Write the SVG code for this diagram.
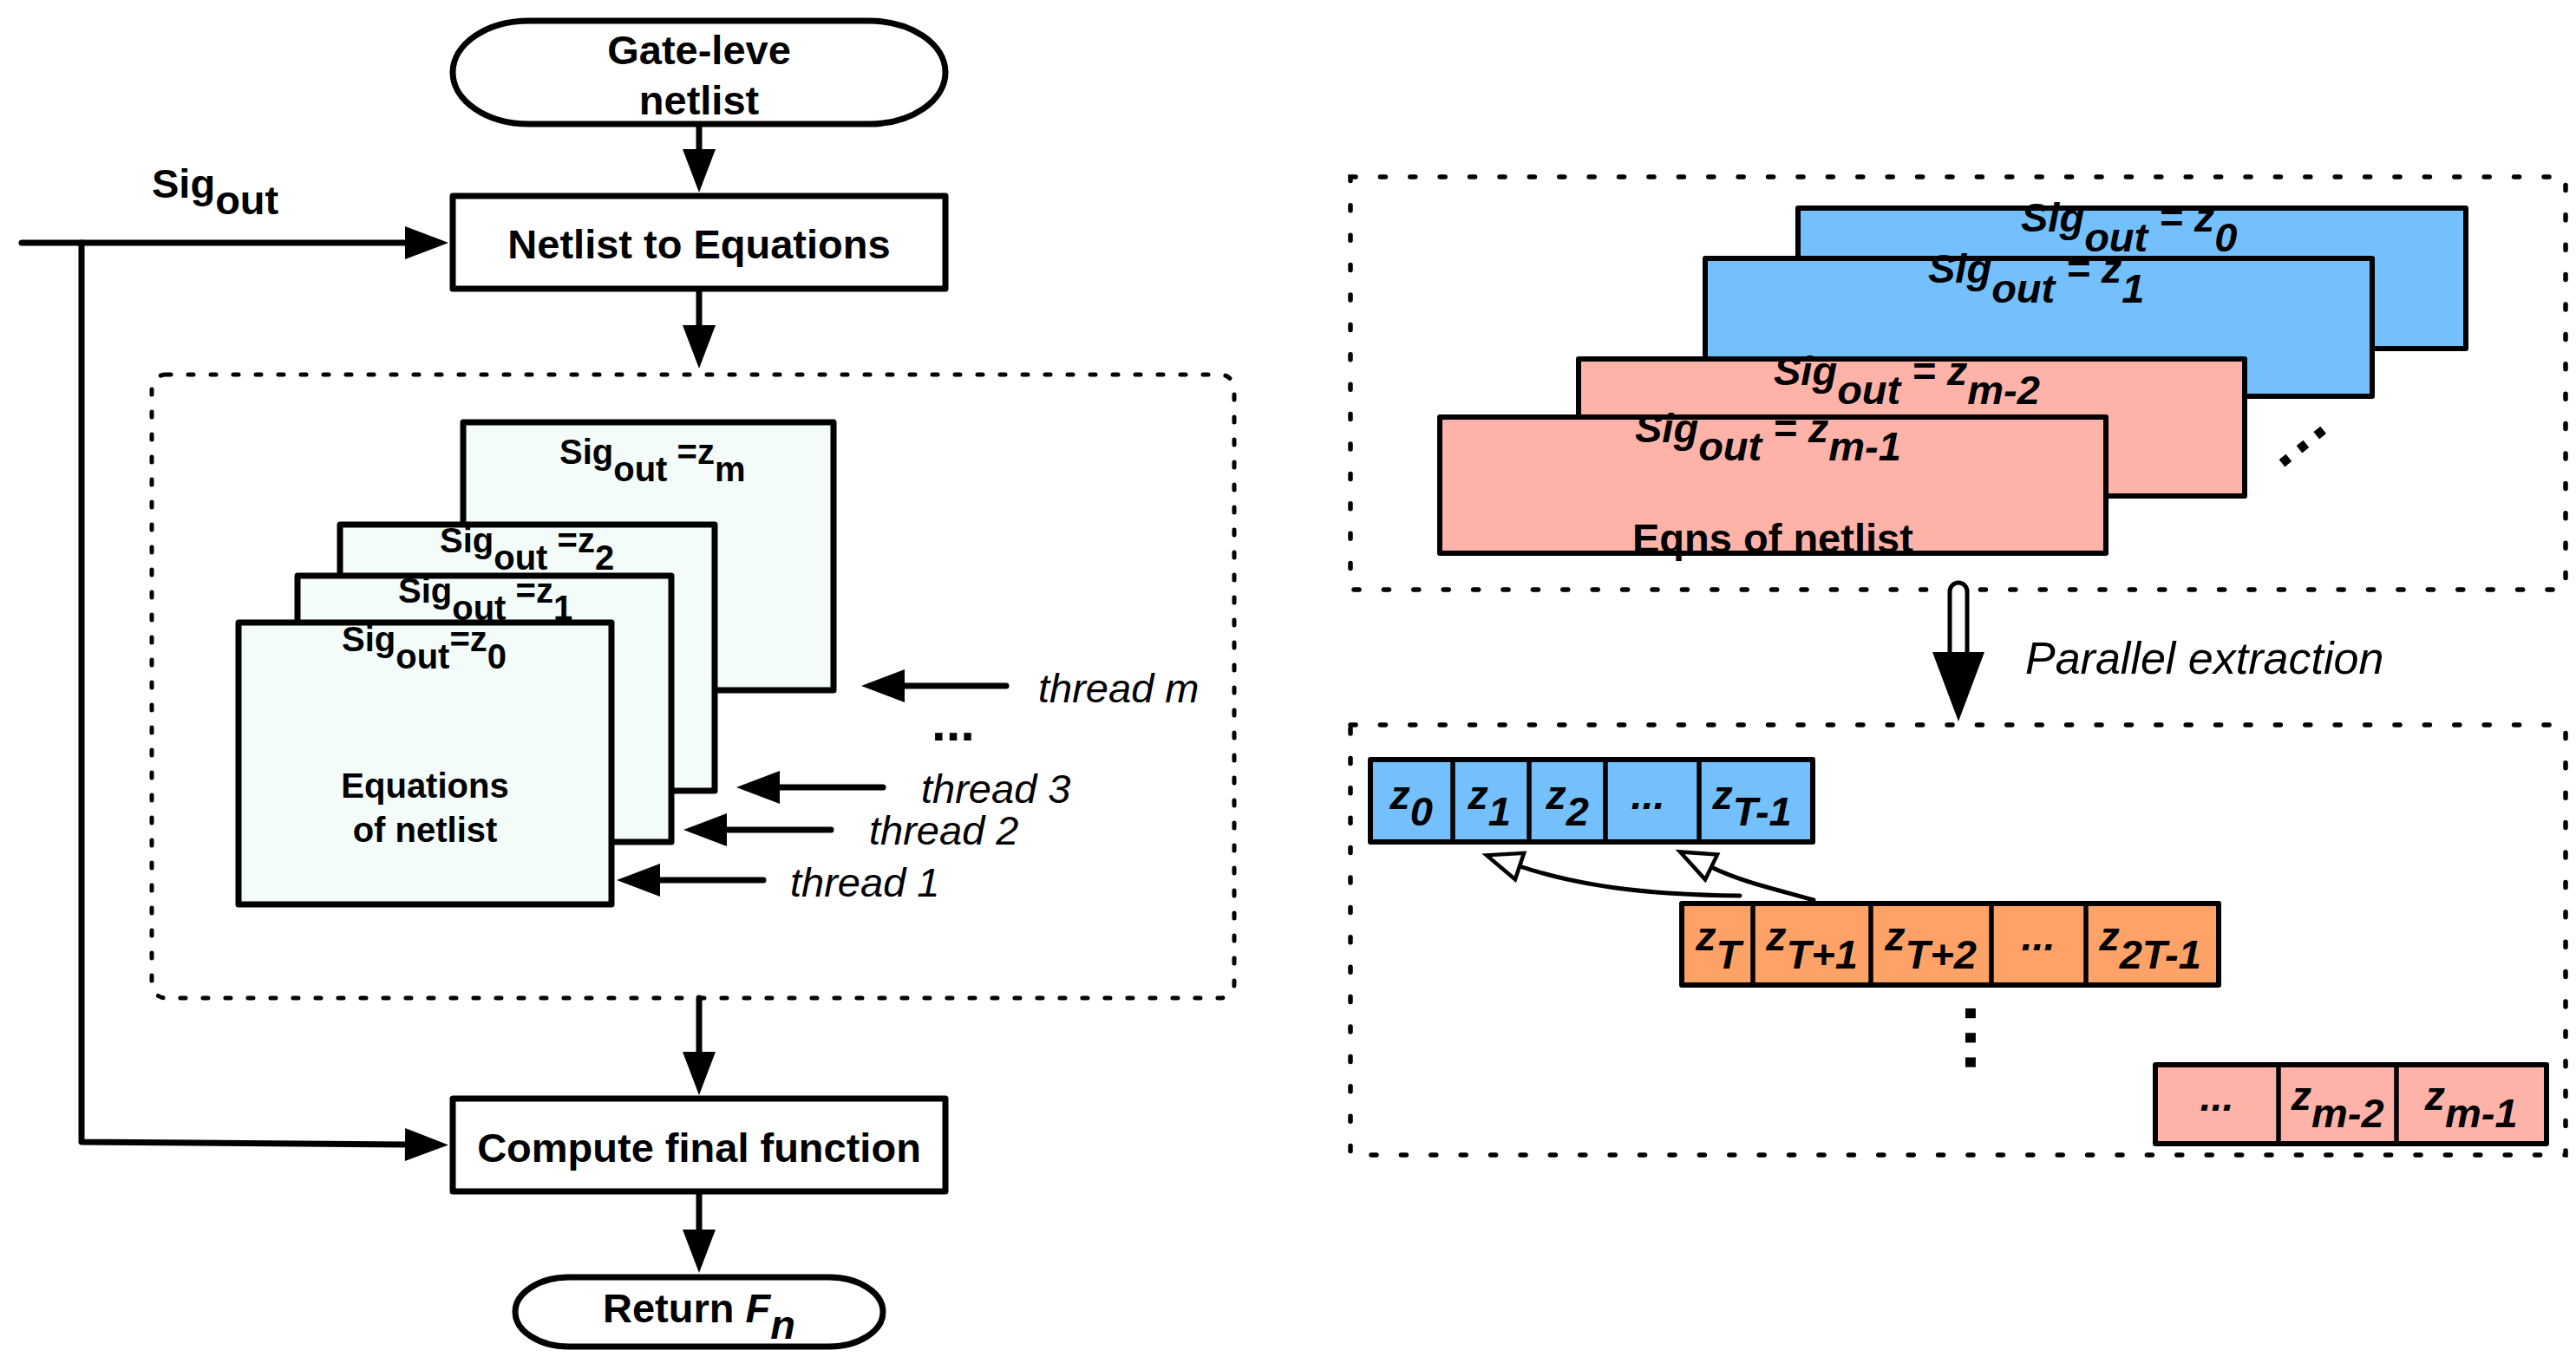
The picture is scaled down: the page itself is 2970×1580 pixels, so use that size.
<svg xmlns="http://www.w3.org/2000/svg" width="2970" height="1580" viewBox="0 0 2970 1580">
<style>
text { font-family: "Liberation Sans", Arial, Helvetica, sans-serif; fill: #000; }
.b47 { font-weight: bold; font-size: 47px; }
.b40 { font-weight: bold; font-size: 40px; }
.it47 { font-style: italic; font-size: 47px; }
.it50 { font-style: italic; font-size: 52px; }
.bi47 { font-weight: bold; font-style: italic; font-size: 47px; }
.box { fill: #fff; stroke: #000; stroke-width: 7; stroke-linejoin: round; }
.mint { fill: #F3FCF9; stroke: #000; stroke-width: 7; stroke-linejoin: round; }
.edge { fill: none; stroke: #000; stroke-width: 6; stroke-linejoin: round; }
.blue { fill: #73C0FC; }
.pink { fill: #FFB3A8; }
.orange { fill: #FFA267; }
.div { stroke: #000; stroke-width: 5.5; }
.dashL { fill: none; stroke: #000; stroke-width: 5; stroke-dasharray: 6 20; stroke-linecap: round; }
.dashR { fill: none; stroke: #000; stroke-width: 5.5; stroke-dasharray: 6 28.4; stroke-linecap: round; }
.conn { fill: none; stroke: #000; stroke-width: 7; stroke-linecap: round; stroke-linejoin: round; marker-end: url(#ah); }
.hconn { fill: none; stroke: #000; stroke-width: 5; stroke-linecap: round; marker-end: url(#hh); }
</style>
<defs>
<marker id="ah" markerUnits="userSpaceOnUse" orient="auto" overflow="visible" refX="0" refY="0" markerWidth="1" markerHeight="1">
<path d="M0,-19 L50,0 L0,19 Z" fill="#000"/>
</marker>
<marker id="hh" markerUnits="userSpaceOnUse" orient="auto" overflow="visible" refX="0" refY="0" markerWidth="1" markerHeight="1">
<path d="M0,-16 L40,0 L0,16 Z" fill="#fff" stroke="#000" stroke-width="4.5" stroke-linejoin="miter"/>
</marker>
</defs>
<rect width="2970" height="1580" fill="#fff"/>

<!-- Left panel containers -->
<g id="thread-container">
<rect class="dashL" x="175" y="432" width="1248" height="719" rx="16" ry="16"/>
</g>

<g id="gate-netlist">
<rect class="box" x="522" y="24" width="568" height="119" rx="88" ry="59.5"/>
<text class="b47" x="806" y="74" text-anchor="middle">Gate-leve</text>
<text class="b47" x="806" y="132" text-anchor="middle">netlist</text>
</g>

<g id="netlist-to-equations">
<rect class="box" x="522" y="226" width="568" height="107"/>
<text class="b47" x="806" y="298" text-anchor="middle">Netlist to Equations</text>
</g>

<g id="eq-m">
<rect class="mint" x="534" y="487" width="427" height="309"/>
<text class="b40" x="645" y="535">Sig<tspan dy="20">out</tspan><tspan dy="-20"> =z</tspan><tspan dy="20">m</tspan></text>
</g>
<g id="eq-2">
<rect class="mint" x="392" y="605" width="432" height="307"/>
<text class="b40" x="507" y="637">Sig<tspan dy="20">out</tspan><tspan dy="-20"> =z</tspan><tspan dy="20">2</tspan></text>
</g>
<g id="eq-1">
<rect class="mint" x="343" y="664" width="431" height="307"/>
<text class="b40" x="459" y="695">Sig<tspan dy="20">out</tspan><tspan dy="-20"> =z</tspan><tspan dy="20">1</tspan></text>
</g>
<g id="eq-0">
<rect class="mint" x="275" y="718" width="430" height="325"/>
<text class="b40" x="394" y="751">Sig<tspan dy="20">out</tspan><tspan dy="-20">=z</tspan><tspan dy="20">0</tspan></text>
<text class="b40" x="490" y="920" text-anchor="middle">Equations</text>
<text class="b40" x="490" y="971" text-anchor="middle">of netlist</text>
</g>

<g id="thread-labels">
<text class="it47" x="1197" y="810">thread m</text>
<text class="b47" x="1074" y="854" style="font-size:60px">...</text>
<text class="it47" x="1062" y="926">thread 3</text>
<text class="it47" x="1002" y="974">thread 2</text>
<text class="it47" x="911" y="1034">thread 1</text>
</g>

<g id="sig-out-label">
<text class="b47" x="175" y="228">Sig<tspan dy="19">out</tspan></text>
</g>

<g id="compute-final">
<rect class="box" x="522" y="1267" width="568" height="107"/>
<text class="b47" x="806" y="1340" text-anchor="middle">Compute final function</text>
</g>

<g id="return-fn">
<rect class="box" x="594" y="1473" width="424" height="80" rx="62" ry="40"/>
<text class="b47" x="695" y="1525">Return <tspan font-style="italic">F</tspan><tspan font-style="italic" dy="19">n</tspan></text>
</g>

<!-- Right panel -->
<g id="eqns-container">
<rect class="dashR" x="1557" y="204" width="1401" height="476"/>
</g>

<g id="eqn-z0">
<rect class="blue" x="2073" y="240" width="770" height="162"/>
<text class="bi47" x="2330" y="267">Sig<tspan dy="23">out</tspan><tspan dy="-23"> = z</tspan><tspan dy="23">0</tspan></text>
<rect class="edge" x="2073" y="240" width="770" height="162"/>
</g>
<g id="eqn-z1">
<rect class="blue" x="1966" y="298" width="769" height="159"/>
<text class="bi47" x="2223" y="326">Sig<tspan dy="23">out</tspan><tspan dy="-23"> = z</tspan><tspan dy="23">1</tspan></text>
<rect class="edge" x="1966" y="298" width="769" height="159"/>
</g>
<g id="eqn-zm2">
<rect class="pink" x="1820" y="414" width="768" height="158"/>
<text class="bi47" x="2045" y="444">Sig<tspan dy="22">out</tspan><tspan dy="-22"> = z</tspan><tspan dy="22">m-2</tspan></text>
<rect class="edge" x="1820" y="414" width="768" height="158"/>
</g>
<g id="eqn-zm1">
<rect class="pink" x="1660" y="481" width="768" height="157"/>
<text class="bi47" x="1885" y="510">Sig<tspan dy="21">out</tspan><tspan dy="-21"> = z</tspan><tspan dy="21">m-1</tspan></text>
<text class="b47" x="1882" y="637">Eqns of netlist</text>
<rect class="edge" x="1660" y="481" width="768" height="157"/>
</g>
<g id="eqn-ellipsis">
<text class="b47" style="font-size:72px;letter-spacing:5.5px" transform="translate(2630.5,541.4) rotate(-38.7)">...</text>
</g>

<g id="parallel-label">
<text class="it50" x="2335" y="777">Parallel extraction</text>
</g>

<g id="extract-container">
<rect class="dashR" x="1557" y="836" width="1401" height="496"/>
</g>

<g id="row-blue">
<rect class="blue" x="1580" y="876" width="510" height="95"/>
<line class="div" x1="1675" y1="876" x2="1675" y2="971"/>
<line class="div" x1="1763" y1="876" x2="1763" y2="971"/>
<line class="div" x1="1851" y1="876" x2="1851" y2="971"/>
<line class="div" x1="1959" y1="876" x2="1959" y2="971"/>
<rect class="edge" x="1580" y="876" width="510" height="95"/>
<text class="bi47" x="1627" y="933" text-anchor="middle">z<tspan dy="19">0</tspan></text>
<text class="bi47" x="1717" y="933" text-anchor="middle">z<tspan dy="19">1</tspan></text>
<text class="bi47" x="1807" y="933" text-anchor="middle">z<tspan dy="19">2</tspan></text>
<text class="bi47" x="1900" y="933" text-anchor="middle">...</text>
<text class="bi47" x="2020" y="933" text-anchor="middle">z<tspan dy="19">T-1</tspan></text>
</g>

<g id="row-orange">
<rect class="orange" x="1939" y="1042" width="619" height="94"/>
<line class="div" x1="2021" y1="1042" x2="2021" y2="1136"/>
<line class="div" x1="2157" y1="1042" x2="2157" y2="1136"/>
<line class="div" x1="2296" y1="1042" x2="2296" y2="1136"/>
<line class="div" x1="2405" y1="1042" x2="2405" y2="1136"/>
<rect class="edge" x="1939" y="1042" width="619" height="94"/>
<text class="bi47" x="1981" y="1096" text-anchor="middle">z<tspan dy="21">T</tspan></text>
<text class="bi47" x="2089" y="1096" text-anchor="middle">z<tspan dy="21">T+1</tspan></text>
<text class="bi47" x="2226" y="1096" text-anchor="middle">z<tspan dy="21">T+2</tspan></text>
<text class="bi47" x="2350" y="1096" text-anchor="middle">...</text>
<text class="bi47" x="2479" y="1096" text-anchor="middle">z<tspan dy="21">2T-1</tspan></text>
</g>

<g id="row-ellipsis">
<text class="b47" style="font-size:80px;letter-spacing:6px" transform="translate(2266,1157.5) rotate(90)">...</text>
</g>

<g id="row-pink">
<rect class="pink" x="2485" y="1228" width="451" height="91"/>
<line class="div" x1="2627" y1="1228" x2="2627" y2="1319"/>
<line class="div" x1="2763" y1="1228" x2="2763" y2="1319"/>
<rect class="edge" x="2485" y="1228" width="451" height="91"/>
<text class="bi47" x="2556" y="1281" text-anchor="middle">...</text>
<text class="bi47" x="2695" y="1280" text-anchor="middle">z<tspan dy="20">m-2</tspan></text>
<text class="bi47" x="2849" y="1280" text-anchor="middle">z<tspan dy="20">m-1</tspan></text>
</g>

<!-- Connectors -->
<g id="connectors">
<path class="conn" d="M806,146 L806,172"/>
<path class="conn" d="M806,337 L806,375"/>
<path class="conn" d="M806,1151 L806,1213"/>
<path class="conn" d="M806,1377 L806,1418"/>
<path class="conn" d="M25,280 L467,280"/>
<path class="conn" d="M94,280 L94,1317 L467,1320"/>
<path class="conn" d="M1160,791 L1043,791"/>
<path class="conn" d="M1018,908 L899,908"/>
<path class="conn" d="M958,957 L838,957"/>
<path class="conn" d="M880,1015 L761,1015"/>
<path class="hconn" d="M2006,1033 C1890,1032 1815,1020 1752,999"/>
<path class="hconn" d="M2091,1038 C2050,1026 2010,1018 1973,1000"/>
<path d="M2248,752 L2248,682 A10,10 0 0 1 2268,682 L2268,752" fill="#fff" stroke="#000" stroke-width="5"/>
<path d="M2228,752 L2288,752 L2258,832 Z" fill="#000"/>
</g>
</svg>
